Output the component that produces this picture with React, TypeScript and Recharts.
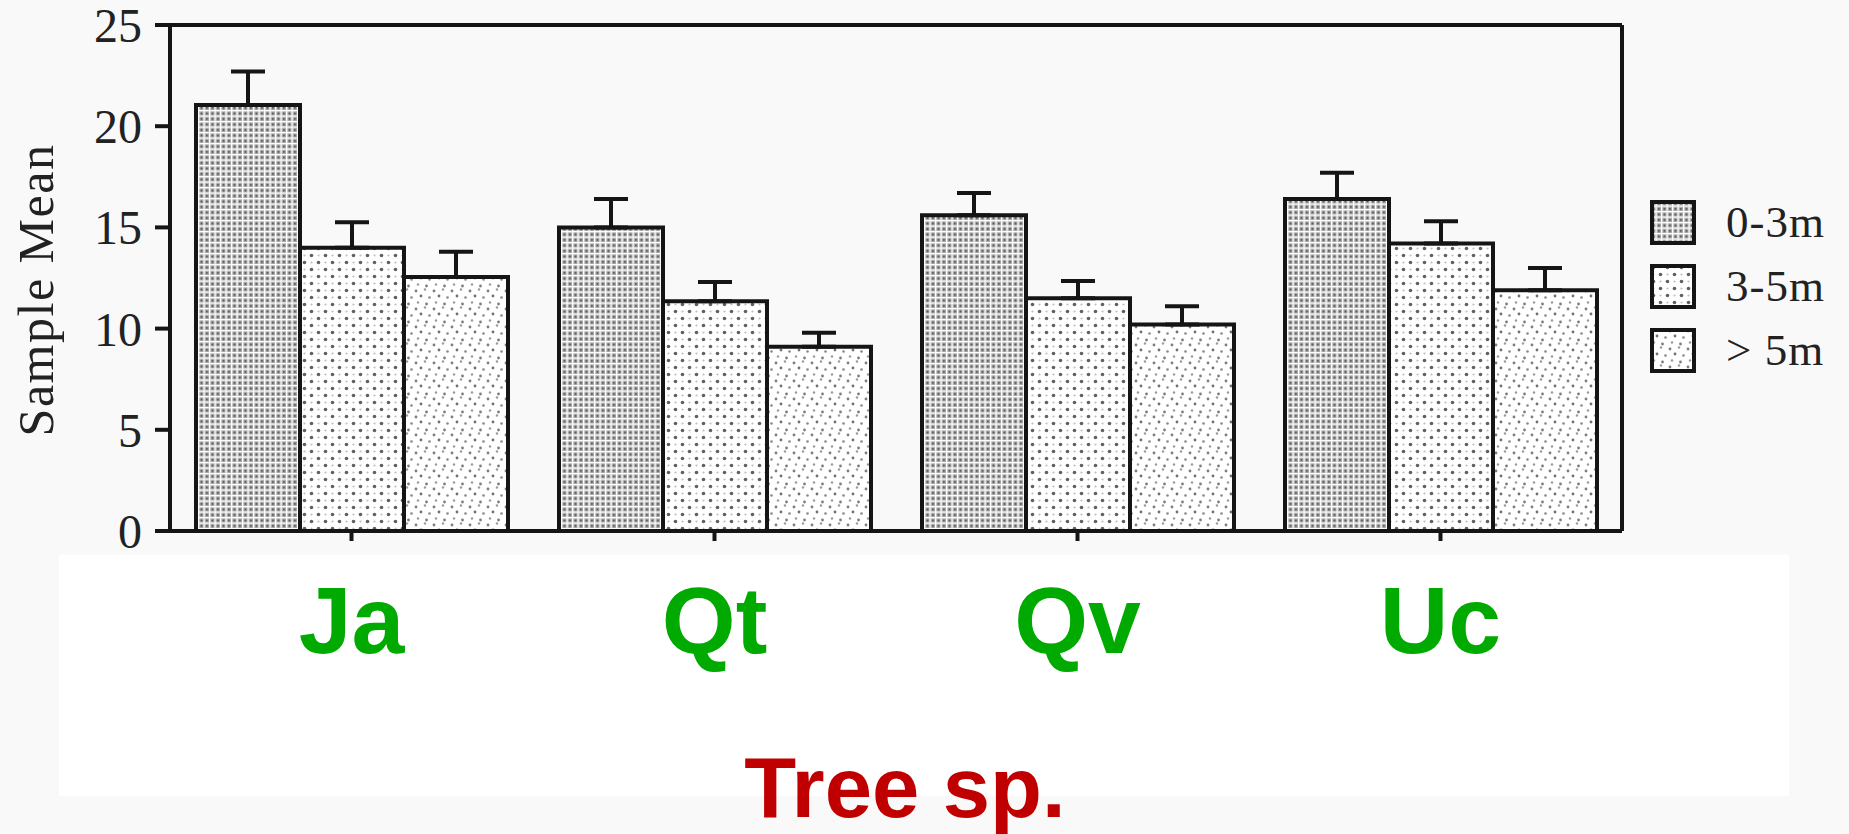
import { BarChart, Bar, XAxis, YAxis, ErrorBar, Legend } from "recharts"

// tree species and height classes
const species = ["Ja", "Qt", "Qv", "Uc"]
const heightClasses = ["0-3m", "3-5m", "> 5m"]

// sample means per height class
const mean0to3 = [21.05, 15.0, 15.6, 16.4]
const mean3to5 = [14.0, 11.35, 11.5, 14.2]
const meanOver5 = [12.55, 9.1, 10.2, 11.9]

// upper error (one-sided)
const err0to3 = [1.65, 1.4, 1.1, 1.3]
const err3to5 = [1.25, 0.95, 0.85, 1.1]
const errOver5 = [1.25, 0.7, 0.9, 1.1]

const yTicks = [0, 5, 10, 15, 20, 25]

const serif = "'Liberation Serif', 'Times New Roman', serif"
const sans = "'Liberation Sans', Arial, sans-serif"
const ink = "#151515"
const lineW = 4

const data = species.map((name, i) => ({
  name,
  low: mean0to3[i],
  lowErr: [0, err0to3[i]],
  mid: mean3to5[i],
  midErr: [0, err3to5[i]],
  high: meanOver5[i],
  highErr: [0, errOver5[i]],
}))

const fills = ["url(#fill-grid)", "url(#fill-dots)", "url(#fill-fine)"]

const SpeciesTick = (props: any) => (
  <text
    x={props.x}
    y={props.y + 110}
    textAnchor="middle"
    fontFamily={sans}
    fontWeight="bold"
    fontSize={95}
    fill="#00aa00"
  >
    {props.payload.value}
  </text>
)

const LegendBox = () => (
  <div>
    {heightClasses.map((label, i) => (
      <div key={label} style={{ display: "flex", alignItems: "center", height: 64 }}>
        <svg width={46} height={45}>
          <rect x={2} y={2} width={42} height={41} fill={fills[i]} stroke={ink} strokeWidth={lineW} />
        </svg>
        <span
          style={{ marginLeft: 30, fontSize: 45, letterSpacing: 1, fontFamily: serif, color: "#222", lineHeight: 1 }}
        >
          {label}
        </span>
      </div>
    ))}
  </div>
)

export default function App() {
  return (
    <div style={{ position: "absolute", left: 0, top: 0, width: 1849, height: 834, background: "#f9f9f9" }}>
      {/* white band behind the species names */}
      <div style={{ position: "absolute", left: 59, top: 555, width: 1730, height: 241, background: "#ffffff" }} />
      <div style={{ position: "absolute", left: 0, top: 0 }}>
        <BarChart
          width={1849}
          height={834}
          data={data}
          margin={{ top: 24, right: 226, bottom: 0, left: 0 }}
          barCategoryGap={26}
          barGap={0}
        >
          <defs>
            <pattern id="fill-grid" width={5.5} height={5.5} patternUnits="userSpaceOnUse">
              <rect width={5.5} height={5.5} fill="#ffffff" />
              <rect x={1.3} y={1.3} width={4.2} height={4.2} fill="#a8a8a8" />
              <circle cx={3.4} cy={3.4} r={0.9} fill="#404040" />
            </pattern>
            <pattern id="fill-dots" width={14} height={14} patternUnits="userSpaceOnUse">
              <rect width={14} height={14} fill="#ffffff" />
              <circle cx={3.5} cy={3.5} r={1.8} fill="#606060" />
              <circle cx={10.5} cy={10.5} r={1.8} fill="#606060" />
              <circle cx={10.5} cy={3.5} r={1.1} fill="#c0c0c0" />
              <circle cx={3.5} cy={10.5} r={1.1} fill="#c0c0c0" />
            </pattern>
            <pattern id="fill-fine" width={18} height={18} patternUnits="userSpaceOnUse">
              <rect width={18} height={18} fill="#ffffff" />
              <circle cx={2} cy={3} r={1.4} fill="#7d7d7d" />
              <circle cx={11} cy={1.5} r={1.2} fill="#9a9a9a" />
              <circle cx={7} cy={8} r={1.4} fill="#707070" />
              <circle cx={15.5} cy={9.5} r={1.3} fill="#888888" />
              <circle cx={4} cy={14.5} r={1.2} fill="#9a9a9a" />
              <circle cx={12.5} cy={16} r={1.4} fill="#7d7d7d" />
            </pattern>
          </defs>

          <XAxis
            dataKey="name"
            height={303}
            tickSize={10}
            tickLine={{ stroke: ink, strokeWidth: lineW }}
            axisLine={{ stroke: ink, strokeWidth: lineW }}
            tick={<SpeciesTick />}
            interval={0}
            label={(p: any) => {
              const vb = p.viewBox
              return (
                <text
                  x={vb.x + vb.width / 2 + 9}
                  y={vb.y + vb.height - 17}
                  textAnchor="middle"
                  fontFamily={sans}
                  fontWeight="bold"
                  fontSize={85}
                  fill="#c00000"
                >
                  Tree sp.
                </text>
              )
            }}
          />
          {/* top edge of the frame */}
          <XAxis
            xAxisId="top"
            dataKey="name"
            orientation="top"
            height={1}
            tick={false}
            tickLine={false}
            axisLine={{ stroke: ink, strokeWidth: lineW }}
          />
          <YAxis
            domain={[0, 25]}
            ticks={yTicks}
            width={170}
            tickSize={15}
            tickMargin={13}
            interval={0}
            tickLine={{ stroke: ink, strokeWidth: lineW }}
            axisLine={{ stroke: ink, strokeWidth: lineW }}
            tick={{ fontSize: 48, fill: "#222", fontFamily: serif }}
            label={(p: any) => {
              const vb = p.viewBox
              const cx = 36
              const cy = vb.y + vb.height / 2 + 12
              return (
                <text
                  x={cx}
                  y={cy}
                  transform={`rotate(-90 ${cx} ${cy})`}
                  textAnchor="middle"
                  dominantBaseline="central"
                  fontFamily={serif}
                  fontSize={50}
                  letterSpacing={1.5}
                  fill="#222"
                >
                  Sample  Mean
                </text>
              )
            }}
          />
          {/* right edge of the frame */}
          <YAxis
            yAxisId="right"
            orientation="right"
            domain={[0, 25]}
            width={1}
            tick={false}
            tickLine={false}
            axisLine={{ stroke: ink, strokeWidth: lineW }}
          />

          <Legend
            layout="vertical"
            align="center"
            verticalAlign="middle"
            wrapperStyle={{ left: 1650, top: 190, width: 197 }}
            content={<LegendBox />}
          />

          <Bar dataKey="low" name={heightClasses[0]} fill={fills[0]} stroke={ink} strokeWidth={lineW} isAnimationActive={false}>
            <ErrorBar dataKey="lowErr" direction="y" width={17} stroke={ink} strokeWidth={lineW} />
          </Bar>
          <Bar dataKey="mid" name={heightClasses[1]} fill={fills[1]} stroke={ink} strokeWidth={lineW} isAnimationActive={false}>
            <ErrorBar dataKey="midErr" direction="y" width={17} stroke={ink} strokeWidth={lineW} />
          </Bar>
          <Bar dataKey="high" name={heightClasses[2]} fill={fills[2]} stroke={ink} strokeWidth={lineW} isAnimationActive={false}>
            <ErrorBar dataKey="highErr" direction="y" width={17} stroke={ink} strokeWidth={lineW} />
          </Bar>
        </BarChart>
      </div>
    </div>
  )
}
